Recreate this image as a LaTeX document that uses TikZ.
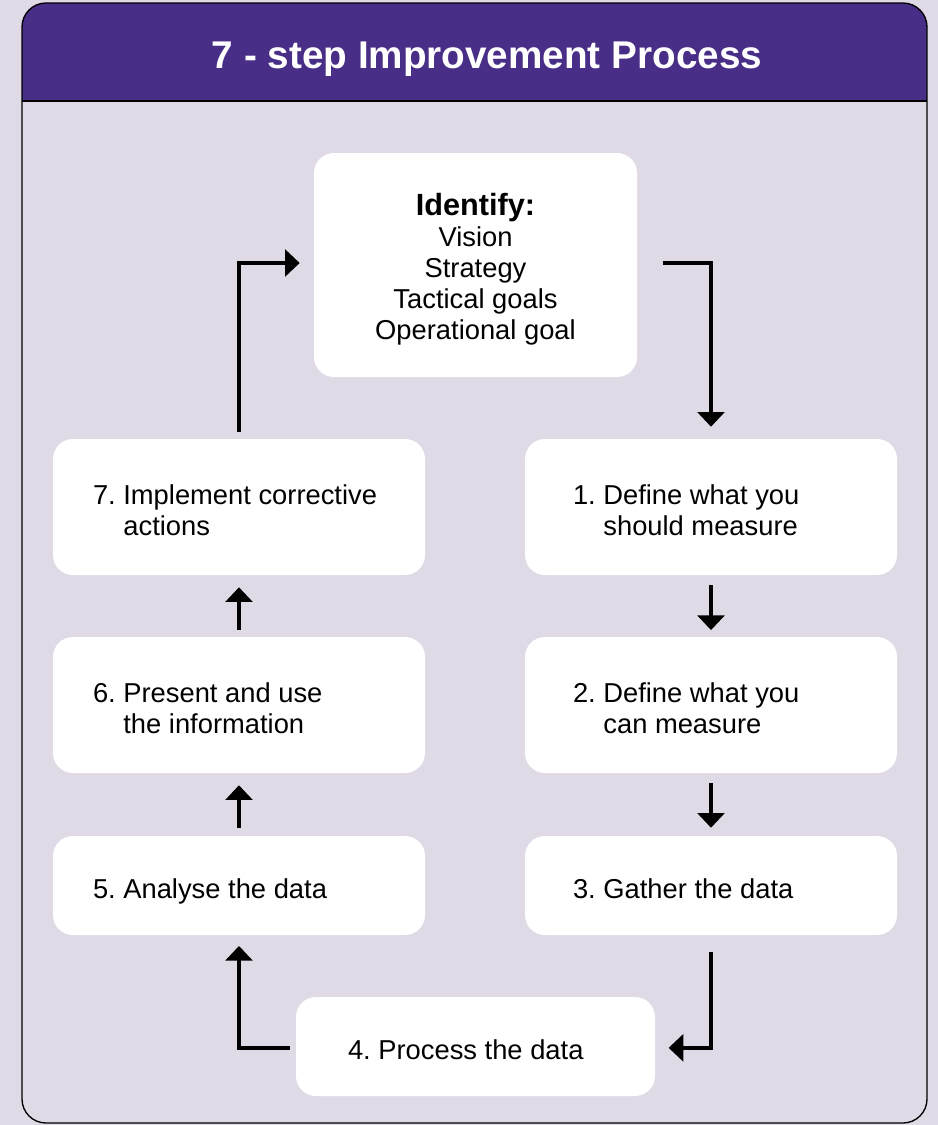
\documentclass[tikz,border=0pt]{standalone}
\usepackage{fontspec}
\setmainfont{Liberation Sans}
\usetikzlibrary{arrows.meta}
\definecolor{bg}{RGB}{223,218,230}
\definecolor{band}{RGB}{72,46,134}

\begin{document}
\begin{tikzpicture}[x=0.75pt,y=-0.75pt,
  stepbox/.style={fill=white, rounded corners=15pt, inner sep=0pt,
                  minimum width=279pt, minimum height=102pt},
  lowbox/.style={stepbox, minimum height=74.25pt},
  steptext/.style={align=left, inner sep=0pt,
                   font=\fontsize{20.5}{23.25}\selectfont},
  flow/.style={line width=3pt, -{Triangle[width=20pt,length=11pt]}}]

% canvas and framed panel
\fill[bg] (0,0) rectangle (938,1125);
\useasboundingbox (0,0) rectangle (938,1125);
\begin{scope}
  \clip[rounded corners=18pt] (22,3) rectangle (927,1123);
  \fill[bg] (22,3) rectangle (927,1123);
  \fill[band] (22,3) rectangle (927,101);
\end{scope}
\draw[line width=1pt] (22,101) -- (927,101);
\draw[line width=1pt, rounded corners=18pt] (22,3) rectangle (927,1123);

\node[text=white, font=\bfseries\fontsize{29}{34}\selectfont] (title) at (487,59)
  {7 - step Improvement Process};

% process boxes
\node[stepbox, minimum width=242.25pt, minimum height=168pt] (id) at (475.5,265) {};
\node[align=center, inner sep=0pt, font=\fontsize{20.5}{23.25}\selectfont] (idt)
  at ([yshift=-3.5pt]id.center)
  {{\bfseries\fontsize{23}{23.25}\selectfont Identify:}\\Vision\\Strategy\\Tactical goals\\Operational goal};

\node[stepbox] (b7) at (239,507) {};
\node[stepbox] (b1) at (711,507) {};
\node[stepbox] (b6) at (239,705) {};
\node[stepbox] (b2) at (711,705) {};
\node[lowbox]  (b5) at (239,885.5) {};
\node[lowbox]  (b3) at (711,885.5) {};
\node[lowbox, minimum width=269.25pt] (b4) at (475.5,1046.5) {};

% step labels
\node[steptext, anchor=west] (t7) at ([xshift=30pt,yshift=-2.5pt]b7.west)
  {7.~Implement corrective\\\phantom{7.~}actions};
\node[steptext, anchor=west] (t1) at ([xshift=36pt,yshift=-2.5pt]b1.west)
  {1.~Define what you\\\phantom{1.~}should measure};
\node[steptext, anchor=west] (t6) at ([xshift=30pt,yshift=-2.5pt]b6.west)
  {6.~Present and use\\\phantom{6.~}the information};
\node[steptext, anchor=west] (t2) at ([xshift=36pt,yshift=-2.5pt]b2.west)
  {2.~Define what you\\\phantom{2.~}can measure};
\node[steptext, anchor=base west] (t5) at ([xshift=30pt,yshift=-9.4pt]b5.west)
  {5.~Analyse the data};
\node[steptext, anchor=base west] (t3) at ([xshift=36pt,yshift=-9.4pt]b3.west)
  {3.~Gather the data};
\node[steptext, anchor=base west] (t4) at ([xshift=39pt,yshift=-9.4pt]b4.west)
  {4.~Process the data};

% connectors
\draw[flow] ([xshift=19pt,yshift=1.5pt]id.east) -| ([yshift=9pt]b1.north);
\draw[flow] ([yshift=-7.5pt]b1.south) -- ([yshift=5pt]b2.north);
\draw[flow] ([yshift=-7.5pt]b2.south) -- ([yshift=6pt]b3.north);
\draw[flow] ([yshift=-12.75pt]b3.south) |- ([xshift=10pt,yshift=-1pt]b4.east);
\draw[flow] ([xshift=-4.5pt,yshift=-1pt]b4.west) -| ([yshift=-8pt]b5.south);
\draw[flow] ([yshift=6pt]b5.north) -- ([yshift=-9pt]b6.south);
\draw[flow] ([yshift=5pt]b6.north) -- ([yshift=-9pt]b7.south);
\draw[flow] ([yshift=5pt]b7.north) |- ([xshift=-10.5pt,yshift=1.5pt]id.west);

\end{tikzpicture}
\end{document}
